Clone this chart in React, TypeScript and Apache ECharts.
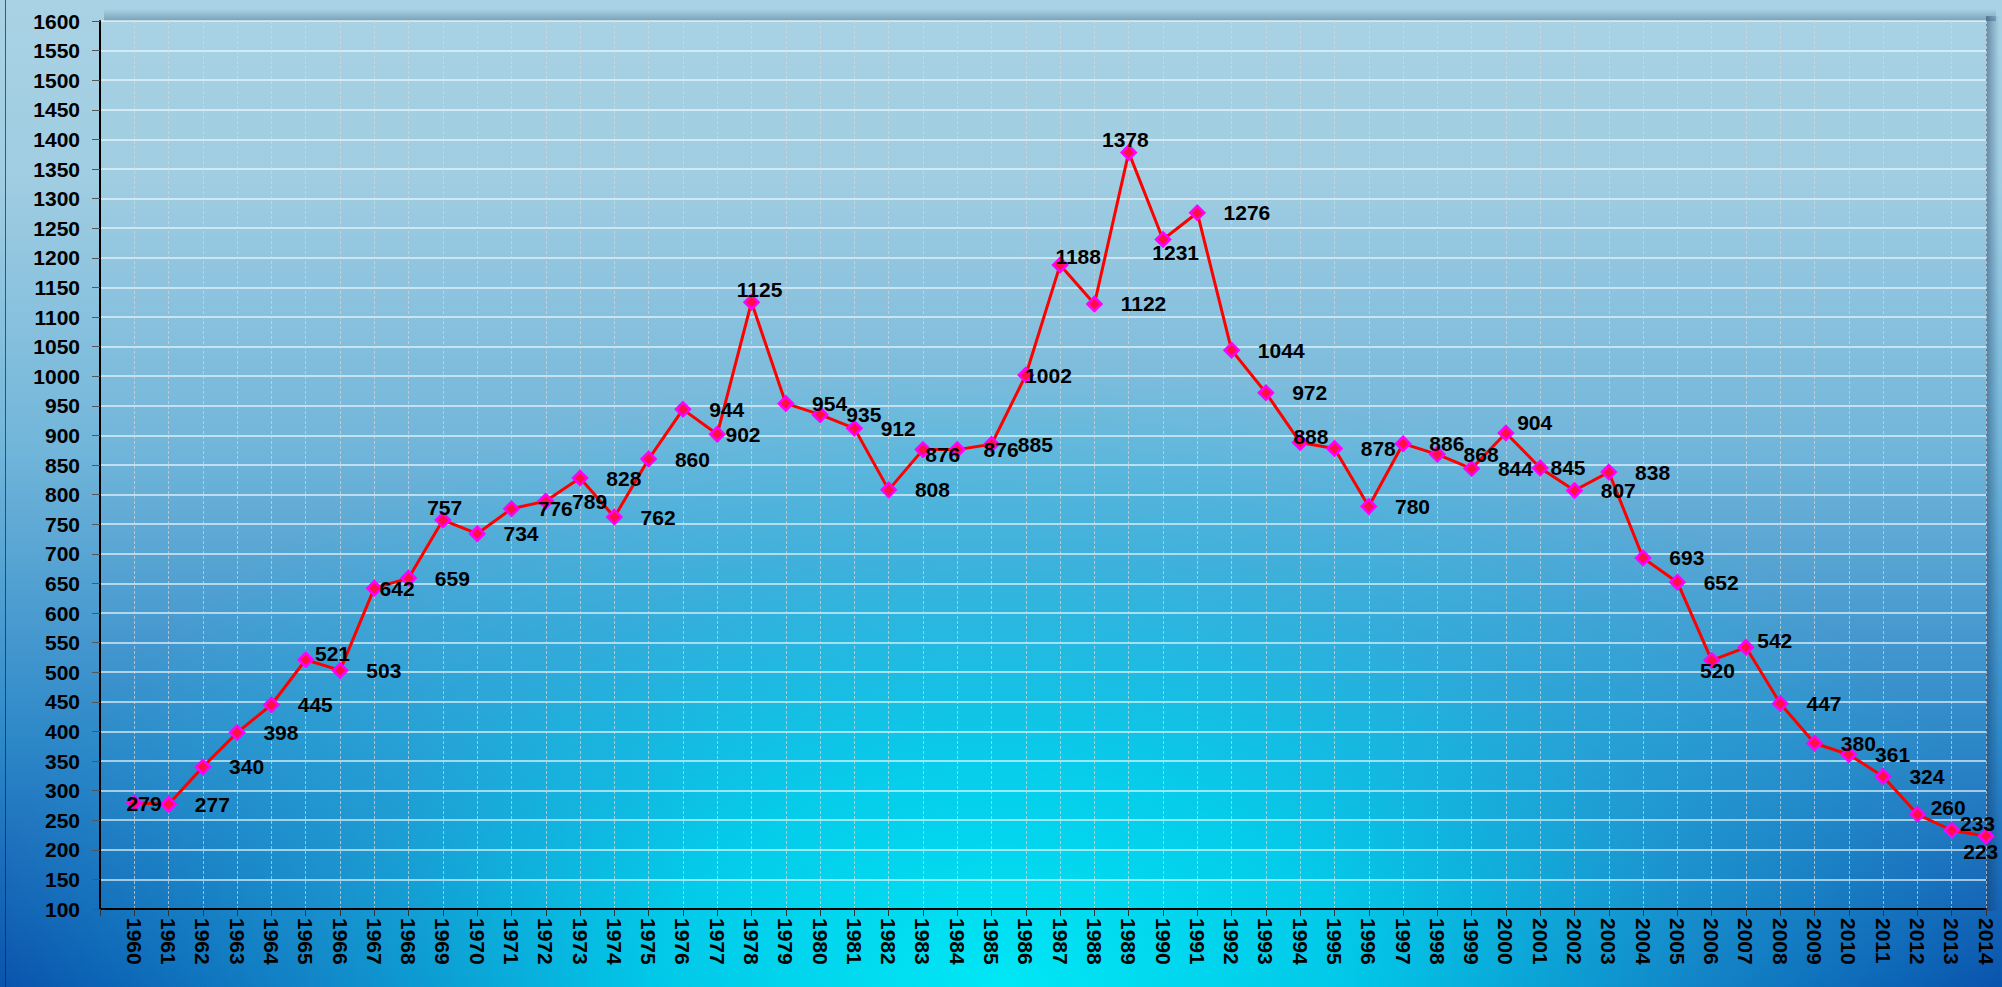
import React, { useEffect, useRef } from "react";
import * as echarts from "echarts";

const years: number[] = [
  1960, 1961, 1962, 1963, 1964, 1965, 1966, 1967, 1968, 1969,
  1970, 1971, 1972, 1973, 1974, 1975, 1976, 1977, 1978, 1979,
  1980, 1981, 1982, 1983, 1984, 1985, 1986, 1987, 1988, 1989,
  1990, 1991, 1992, 1993, 1994, 1995, 1996, 1997, 1998, 1999,
  2000, 2001, 2002, 2003, 2004, 2005, 2006, 2007, 2008, 2009,
  2010, 2011, 2012, 2013, 2014,
];

const values: number[] = [
  279, 277, 340, 398, 445, 521, 503, 642, 659, 757,
  734, 776, 789, 828, 762, 860, 944, 902, 1125, 954,
  935, 912, 808, 876, 876, 885, 1002, 1188, 1122, 1378,
  1231, 1276, 1044, 972, 888, 878, 780, 886, 868, 844,
  904, 845, 807, 838, 693, 652, 520, 542, 447, 380,
  361, 324, 260, 233, 223,
];

const yMin = 100;
const yMax = 1600;
const yStep = 50;
const xStart = 1959; // empty slot before the first year
const xEnd = 2014;

// label nudges (style only): [dx, dy] relative to the default "right" placement
const labelNudges: Record<number, [number, number]> = {
  1960: [-34, 0],
  1965: [-17, -6],
  1967: [-21, 0],
  1969: [-42, -13],
  1977: [-18, 0],
  1978: [-41, -13],
  1983: [-24, 5],
  1986: [-27, 0],
  1987: [-31, -8],
  1989: [-53, -13],
  1990: [-37, 13],
  1994: [-33, -6],
  2000: [-15, -11],
  2001: [-16, 0],
  2006: [-38, 10],
  2007: [-15, -7],
  2012: [-13, -7],
  2013: [-18, -7],
  2014: [-49, 15],
};

const FONT = "'Liberation Sans', Arial, sans-serif";

export default function App() {
  const ref = useRef<HTMLDivElement>(null);

  useEffect(() => {
    document.body.style.margin = "0";
    if (!ref.current) return;
    const chart = echarts.init(ref.current, undefined, { renderer: "svg" });

    const data = years.map((y, i) => {
      const nudge = labelNudges[y];
      const item: any = { value: [y, values[i]] };
      if (nudge) item.label = { offset: nudge };
      return item;
    });

    chart.setOption({
      animation: false,
      backgroundColor: "transparent",
      grid: { left: 100, right: 16, top: 21, bottom: 78, containLabel: false },
      graphic: [
        {
          type: "rect",
          z: -1,
          shape: { x: 104, y: 9, width: 1892, height: 12 },
          style: {
            fill: new echarts.graphic.LinearGradient(0, 0, 0, 1, [
              { offset: 0, color: "rgba(30,70,100,0)" },
              { offset: 1, color: "rgba(30,70,100,0.35)" },
            ]),
          },
        },
        {
          type: "rect",
          z: -1,
          shape: { x: 1986, y: 16, width: 13, height: 895 },
          style: {
            fill: new echarts.graphic.LinearGradient(0, 0, 1, 0, [
              { offset: 0, color: "rgba(20,50,90,0.45)" },
              { offset: 1, color: "rgba(20,50,90,0)" },
            ]),
          },
        },
        {
          type: "line",
          z: -1,
          shape: { x1: 5.5, y1: 0, x2: 5.5, y2: 987 },
          style: { stroke: "rgba(10,40,80,0.7)", lineWidth: 1 },
        },
      ],
      xAxis: {
        type: "value",
        min: xStart,
        max: xEnd,
        interval: 1,
        axisLine: { show: true, onZero: false, lineStyle: { color: "#000", width: 2 } },
        axisTick: { show: true, length: 7, lineStyle: { color: "#333", width: 1 } },
        axisLabel: {
          rotate: -90,
          margin: 9,
          color: "#000",
          fontSize: 21,
          fontWeight: "bold",
          fontFamily: FONT,
          formatter: (v: number) => (v === xStart ? "" : String(v)),
        },
        splitLine: {
          show: true,
          lineStyle: { color: "rgba(215,215,215,0.7)", width: 1, type: [3, 2] },
        },
      },
      yAxis: {
        type: "value",
        min: yMin,
        max: yMax,
        interval: yStep,
        axisLine: { show: true, lineStyle: { color: "#000", width: 2 } },
        axisTick: { show: true, length: 8, lineStyle: { color: "#555", width: 1 } },
        axisLabel: {
          margin: 20,
          color: "#000",
          fontSize: 21,
          fontWeight: "bold",
          fontFamily: FONT,
          formatter: (v: number) => String(v),
        },
        splitLine: {
          show: true,
          lineStyle: { color: "rgba(235,248,252,0.85)", width: 1.5 },
        },
      },
      series: [
        {
          type: "line",
          data,
          symbol: "diamond",
          symbolSize: 14,
          lineStyle: { color: "#ff0000", width: 3 },
          itemStyle: { color: "#ff1040", borderColor: "#ff00ff", borderWidth: 2.5 },
          label: {
            show: true,
            position: "right",
            distance: 18,
            color: "#000",
            fontSize: 21,
            fontWeight: "bold",
            fontFamily: FONT,
            formatter: (p: any) => String(p.value[1]),
          },
          z: 3,
        },
      ],
    });

    return () => chart.dispose();
  }, []);

  return (
    <div
      ref={ref}
      style={{
        position: "fixed",
        left: 0,
        top: 0,
        width: 2002,
        height: 987,
        background:
          "radial-gradient(ellipse 58% 72% at 50% 100%, rgba(0,232,246,1) 0%, rgba(0,220,242,0.85) 30%, rgba(30,195,232,0.45) 60%, rgba(30,195,232,0) 88%), linear-gradient(180deg, #a9d2e4 0%, #a0cde2 18%, #72b6da 45%, #2d88c8 75%, #0850ab 100%)",
      }}
    />
  );
}
